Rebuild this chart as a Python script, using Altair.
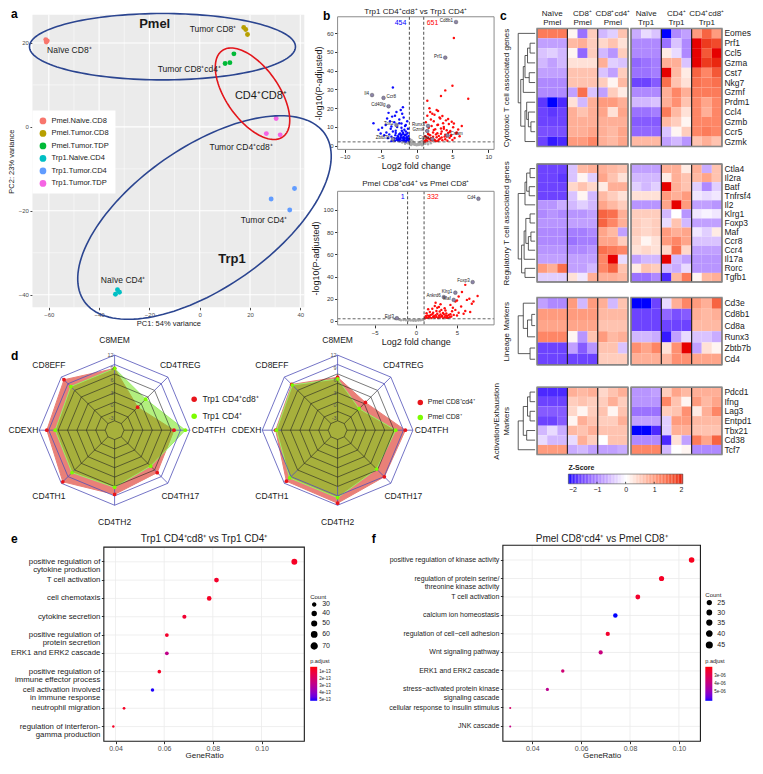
import altair as alt
import pandas as pd
import numpy as np

FONT = "Liberation Sans"
TXT = "#1a1a1a"
KX, KY = 0.978, 0.975   # scale from the original figure's pixel grid to this canvas
W, H = 746, 757         # canvas (plot area) size

# ======================= a : PCA =======================
pca_groups = ["Pmel.Naive.CD8", "Pmel.Tumor.CD8", "Pmel.Tumor.TDP",
              "Trp1.Naive.CD4", "Trp1.Tumor.CD4", "Trp1.Tumor.TDP"]
pca_colors = ["#F8766D", "#B79F00", "#00BA38", "#00BFC4", "#619CFF", "#F564E3"]
pca_group = [g for g in pca_groups for _ in range(3)]
pca_pc1 = [-61.2, -60.6, -61.0, 17.5, 18.3, 19.0, 10.1, 12.0, 13.6,
           -32.7, -31.9, -33.5, 37.7, 28.4, 35.8, 30.4, 26.5, 32.0]
pca_pc2 = [20.8, 20.5, 20.2, 23.7, 23.2, 22.0, 15.1, 15.3, 17.4,
           -38.8, -39.4, -39.9, -14.7, -17.2, -19.8, 2.0, -1.6, -1.9]
pca_major_x = [-60, -40, -20, 0, 20, 40]
pca_major_y = [-40, -20, 0, 20]
pca_minor_x = [-50, -30, -10, 10, 30]
pca_minor_y = [-30, -10, 10]
ell_name = ["Pmel", "CD4CD8", "Trp1"]
ell_cx = [-14.8, 21.0, 1.9]
ell_cy = [19.1, 7.9, -21.6]
ell_a = [136, 54, 150]
ell_b = [34, 27, 72]
ell_ang = [0, -55, 35]
PX1, PX2 = 2.572, 4.30
pca_lab_text = ["Pmel", "Trp1", "Naïve CD8⁺", "Tumor CD8⁺", "Tumor CD8⁺cd4⁺",
                "CD4⁺CD8⁺", "Tumor CD4⁺cd8⁺", "Tumor CD4⁺", "Naïve CD4⁺"]
pca_lab_x = [-17.9, 12.8, -60.7, -4.0, -16.7, 14.0, 3.9, 16.3, -39.3]
pca_lab_y = [24.4, -31.6, 18.4, 23.3, 13.7, 7.4, -4.9, -22.3, -36.5]
pca_lab_kind = ["big", "big", "small", "small", "small", "mid", "small", "small", "small"]

# ======================= b : volcano =======================
lfc_cutoffs = [-1, 1]
p_cutoff = 2
v1_ns = [(-1.4, 1.5), (-1.2, 1.2), (-1.0, 1.9), (-0.9, 2.6), (-0.8, 1.4), (-0.7, 3.0), (-0.6, 0.9),
         (-0.5, 2.2), (-0.4, 0.6), (-0.3, 1.6), (-0.2, 0.4), (-0.1, 0.8), (0.0, 0.2), (0.1, 0.7),
         (0.2, 0.3), (0.3, 1.3), (0.4, 0.5), (0.5, 1.9), (0.6, 0.8), (0.7, 2.4), (0.8, 1.1),
         (0.9, 2.8), (1.0, 1.6), (1.2, 1.0), (1.4, 1.8), (-0.85, 0.5), (-0.65, 1.7), (-0.45, 1.1),
         (-0.25, 0.9), (0.25, 0.6), (0.45, 1.4), (0.65, 1.2), (0.85, 0.4), (-1.6, 1.0), (1.6, 0.7),
         (-2.0, 1.7), (2.0, 1.3), (-0.95, 3.5), (0.95, 3.2), (-0.75, 0.3), (0.75, 0.2)]
v1_down = [(-1.1, 2.5), (-1.3, 3.0), (-1.5, 2.2), (-1.2, 4.0), (-1.8, 3.5), (-2.0, 2.8), (-2.2, 4.5),
           (-1.6, 5.5), (-1.4, 6.0), (-2.5, 3.2), (-2.8, 4.0), (-3.0, 2.6), (-1.9, 7.0), (-2.3, 6.5),
           (-2.6, 5.0), (-1.7, 8.5), (-3.2, 3.5), (-3.5, 4.8), (-1.2, 9.0), (-1.5, 11.0), (-2.1, 9.5),
           (-2.4, 12.0), (-2.9, 8.0), (-3.3, 7.5), (-3.8, 6.0), (-4.0, 4.0), (-1.3, 13.0), (-1.8, 15.0),
           (-2.7, 10.0), (-3.1, 12.5), (-3.6, 9.0), (-4.2, 7.0), (-4.5, 5.5), (-2.0, 17.0), (-2.4, 14.0),
           (-1.6, 10.5), (-3.4, 15.5), (-2.2, 19.0), (-1.9, 20.5), (-4.8, 9.5), (-5.0, 6.5), (-2.8, 18.0),
           (-3.0, 16.0), (-3.7, 13.0), (-1.4, 3.8), (-2.6, 2.7), (-4.3, 11.0), (-3.9, 17.5), (-5.3, 8.5),
           (-2.1, 5.8), (-1.8, 4.6), (-3.2, 2.9), (-2.5, 3.6), (-4.1, 14.5), (-1.1, 5.2), (-3.5, 10.2),
           (-2.9, 6.8), (-6.0, 12.0), (-1.5, 7.6), (-2.3, 3.3), (-1.15, 3.4), (-1.35, 4.6), (-1.55, 5.8),
           (-1.75, 3.0), (-1.95, 4.2), (-2.15, 5.4), (-2.35, 2.4), (-2.55, 4.4), (-2.75, 3.1), (-2.95, 5.6),
           (-3.15, 3.9), (-1.25, 6.8), (-1.45, 2.9), (-1.65, 4.1), (-1.85, 6.2), (-2.05, 7.9), (-2.25, 3.8),
           (-2.45, 6.0), (-1.05, 3.6), (-1.7, 2.3), (-3.5, 2.4), (-2.1, 11.8), (-3.3, 31.0)]
v1_up = [(1.1, 2.3), (1.3, 3.0), (1.5, 2.6), (1.8, 3.5), (2.0, 4.0), (2.2, 2.8), (2.5, 3.2), (2.8, 4.5),
         (3.0, 2.5), (3.3, 3.8), (3.6, 2.9), (4.0, 3.4), (4.3, 2.6), (4.6, 4.2), (5.0, 3.0), (1.2, 5.0),
         (1.6, 6.2), (1.9, 5.5), (2.3, 7.0), (2.7, 6.0), (3.1, 5.2), (3.5, 7.5), (3.9, 4.8), (4.4, 6.8),
         (4.8, 5.6), (5.3, 4.1), (1.4, 8.0), (1.7, 9.5), (2.1, 10.5), (2.6, 8.8), (2.9, 11.0), (3.4, 9.2),
         (3.8, 10.0), (4.2, 8.2), (4.7, 7.8), (5.5, 6.5), (6.0, 5.0), (1.3, 12.5), (2.0, 14.0), (2.4, 13.0),
         (3.2, 15.0), (3.7, 12.0), (4.5, 11.5), (5.1, 9.8), (5.8, 8.6), (1.5, 16.0), (1.9, 18.0), (2.2, 17.0),
         (2.8, 19.0), (3.3, 14.5), (4.1, 13.5), (4.9, 12.8), (6.3, 10.5), (1.8, 20.0), (2.5, 16.5),
         (3.0, 18.5), (3.6, 15.8), (4.4, 14.2), (5.2, 11.8), (2.1, 3.6), (2.7, 2.4), (3.5, 4.4), (4.0, 5.8),
         (4.6, 7.2), (1.6, 3.9), (2.3, 4.7), (2.9, 6.6), (3.8, 9.0), (5.6, 7.0), (1.2, 2.2), (1.4, 4.4),
         (2.6, 2.7), (3.1, 3.3), (4.2, 4.9), (1.7, 6.0), (2.4, 8.4), (3.4, 6.3), (4.8, 5.2), (2.0, 2.9),
         (3.0, 11.2), (5.2, 57.5), (5.0, 32.0), (7.2, 25.0), (3.4, 26.5), (4.0, 29.5), (1.5, 24.0)]
v1_lab_gene = ["Cd8b1", "Prf1", "Il4", "Ccr8", "Cd40lg", "Tox2", "Zbtb7b", "Runx3", "Gzmk", "Cd8a", "Crtam"]
v1_lab_x = [5.5, 4.0, -6.2, -4.6, -3.9, -2.8, -3.3, 1.6, 1.5, 2.2, 4.3]
v1_lab_y = [66.0, 47.0, 27.0, 25.5, 21.0, 11.0, 3.5, 10.5, 7.8, 3.5, 5.5]
v1_lab_side = ["L", "L", "L", "R", "L", "L", "L", "L", "L", "L", "R"]
v2_ns = [(-2.5, 1.8), (-2.0, 1.2), (-1.5, 0.9), (-1.2, 0.6), (-0.9, 0.5), (-0.6, 0.4), (-0.3, 0.3),
         (0.0, 0.2), (0.3, 0.4), (0.6, 0.6), (0.9, 1.0), (-1.8, 0.7), (-0.75, 1.2), (0.45, 0.9),
         (-1.3, 1.5), (0.8, 1.7), (-0.4, 0.8), (0.2, 1.2), (-0.1, 0.6)]
v2_down = []
v2_up = [(1.1, 2.5), (1.3, 3.0), (1.5, 2.8), (1.7, 3.4), (1.9, 2.6), (2.1, 3.6), (2.3, 2.9), (2.5, 3.8),
         (2.7, 2.7), (2.9, 3.2), (3.1, 4.0), (3.3, 2.6), (3.5, 3.5), (3.7, 3.0), (3.9, 2.8), (4.1, 3.3),
         (1.2, 4.2), (1.4, 5.0), (1.6, 4.6), (1.8, 5.5), (2.0, 6.0), (2.2, 4.4), (2.4, 5.2), (2.6, 6.5),
         (2.8, 4.8), (3.0, 5.8), (3.2, 4.5), (3.4, 6.2), (3.6, 5.0), (3.8, 4.6), (4.0, 5.4), (4.3, 4.0),
         (1.3, 7.0), (1.7, 8.0), (2.1, 7.5), (2.5, 9.0), (2.9, 8.5), (3.3, 7.2), (3.7, 6.8), (4.2, 6.0),
         (4.6, 5.5), (5.0, 5.0), (1.5, 10.5), (2.0, 11.0), (2.6, 12.0), (3.1, 10.0), (3.6, 9.5), (4.4, 8.8),
         (5.2, 7.5), (5.8, 6.5), (2.3, 13.5), (2.8, 12.5), (3.5, 11.5), (4.8, 10.0), (6.0, 9.0), (6.6, 8.0),
         (5.5, 13.0), (4.2, 14.5), (3.0, 15.0), (2.4, 16.5), (6.8, 15.5), (7.0, 17.5), (5.0, 18.5),
         (6.2, 19.0), (4.5, 12.0), (6.0, 32.5), (5.6, 26.0), (5.2, 22.0), (6.5, 20.0), (7.5, 22.5), (4.8, 17.5)]
v2_lab_gene = ["Cd4", "Foxp3", "Klrg1", "Maf", "Ankrd6", "Eid3"]
v2_lab_x = [7.6, 6.9, 4.8, 4.6, 3.4, -2.3]
v2_lab_y = [110.0, 35.0, 25.5, 19.0, 21.5, 2.5]
v2_lab_side = ["L", "L", "L", "L", "L", "L"]

# ======================= c : heatmaps =======================
grp_top = ["Naïve", "CD8⁺", "CD8⁺cd4⁺", "Naïve", "CD4⁺", "CD4⁺cd8⁺"]
grp_bottom = ["Pmel", "Pmel", "Pmel", "Trp1", "Trp1", "Trp1"]
cyto_genes = ["Eomes", "Prf1", "Ccl5", "Gzma", "Cst7", "Nkg7", "Gzmf", "Prdm1", "Ccl4", "Gzmb", "Ccr5", "Gzmk"]
cyto_z = [
    [1.3, 1.3, 1.3, 0.1, -1.2, 0.5, -0.6, -0.4, 0.6, -0.7, -0.3, -0.5, -2.0, -1.0, -0.8, 1.0, 1.5, 1.0],
    [-0.8, -0.8, -0.8, 0.7, 0.8, 0.5, 0.4, 0.6, 0.3, -1.0, -1.0, -1.0, -1.2, -0.5, -1.0, 2.0, 1.8, 1.7],
    [-0.5, -0.4, -0.6, 0.1, -1.3, 0.5, -0.6, -0.9, 0.5, -1.0, -1.0, -1.0, 0.2, -0.3, -1.0, 2.0, 1.6, 2.0],
    [-0.6, -0.8, -0.6, 0.3, 0.3, 0.3, 0.8, -0.4, -0.5, -1.3, -1.2, -1.1, 0.8, 0.8, -0.5, 2.0, 1.8, 1.9],
    [-0.8, -0.8, -0.8, 0.6, 0.6, 0.6, -0.5, -0.8, 0.5, -1.2, -1.2, -1.1, 2.0, 0.7, 0.2, 1.5, 1.2, 1.6],
    [-1.0, -1.0, -1.0, 0.6, 0.6, 0.6, 0.5, 0.1, 0.7, -1.6, -1.6, -1.4, 1.4, 0.6, 0.3, 1.4, 1.3, 1.4],
    [-1.0, -1.0, -1.0, -0.8, 1.4, -0.5, -0.8, 0.5, 0.2, -1.0, -1.0, -1.0, 0.8, 1.2, 0.8, 1.3, 1.3, 1.3],
    [-1.7, -2.0, -1.8, 0.3, -0.6, 0.8, 1.0, 1.0, 0.8, -0.6, -0.6, -0.5, 0.8, 1.1, 0.6, 1.2, 0.9, 1.2],
    [-1.6, -1.7, -1.6, 0.8, 0.6, 0.8, 0.9, 0.3, 0.9, -1.2, -1.2, -1.1, 1.3, 0.7, 0.3, 1.2, 0.8, 1.2],
    [-1.6, -1.6, -1.6, 0.8, 0.8, 0.8, 0.8, 0.8, 0.8, -1.4, -1.4, -1.4, 0.7, 0.5, 0.1, 1.2, 1.2, 1.2],
    [-1.5, -1.5, -1.5, 0.8, 0.8, 0.9, 0.8, 0.7, 0.9, -1.3, -1.3, -1.3, -0.5, 0.1, 0.5, 1.2, 1.3, 1.2],
    [-1.6, -1.9, -1.8, 1.0, 1.0, 1.2, 0.8, 0.7, 0.9, 0.7, 0.7, 0.7, -0.8, -0.6, -0.9, 0.6, 0.8, 0.6],
]
cyto_merges = [(1, 2, 0.3), (12, 3, 0.45), (4, 5, 0.35), (13, 14, 0.6), (15, 6, 0.7), (9, 10, 0.25),
               (8, 17, 0.4), (7, 18, 0.5), (19, 11, 0.6), (16, 20, 0.85), (0, 21, 1.0)]
reg_genes = ["Ctla4", "Il2ra", "Batf", "Tnfrsf4", "Il2", "Klrg1", "Foxp3", "Maf", "Ccr8", "Ccr4", "Il17a", "Rorc", "Tgfb1"]
reg_z = [
    [-1.6, -1.6, -1.6, -0.5, 0.7, 0.8, 0.8, 0.7, 0.6, -0.8, -0.8, -0.8, 0.8, 0.8, 0.2, 0.8, -0.7, 0.6],
    [-1.6, -1.6, -1.7, -0.5, 0.1, -0.4, 0.9, 0.6, 0.3, -0.6, -0.6, -0.6, 0.2, 0.8, 0.6, 0.7, 0.9, 0.6],
    [-1.6, -1.6, -1.6, 0.4, 0.6, 0.4, 0.2, 0.8, 0.8, -0.4, -0.6, -0.4, 2.0, 0.8, 0.6, -0.4, -1.0, -0.4],
    [-1.6, -1.6, -1.6, -0.5, 0.1, -0.6, 0.7, 0.5, 0.3, 0.3, 0.3, 0.3, 1.0, 0.8, 1.0, -0.2, -0.3, -0.2],
    [-0.9, -0.9, -0.7, -0.6, -0.4, -0.6, 0.9, 0.7, 0.5, -0.9, -0.9, -0.9, 0.9, 2.0, 1.0, -0.8, -0.8, -0.9],
    [-1.0, -0.9, -1.0, -0.9, -0.9, -0.8, 1.5, 1.4, 0.8, 0.5, 0.5, 0.5, -0.6, 0.0, -0.9, -0.2, -0.1, -0.2],
    [-0.9, -0.9, -0.9, -0.8, -0.8, -0.8, 1.5, 1.2, 0.8, 0.5, 0.4, 0.5, -0.3, 0.6, -0.6, -0.8, -0.8, -0.8],
    [-1.0, -1.0, -1.0, -1.1, -1.1, -1.0, 0.9, 0.7, -0.8, 0.5, 0.4, 0.5, 1.0, 0.8, 0.9, -0.2, -0.4, 0.2],
    [-1.0, -1.0, -1.0, -1.2, -1.1, -1.1, 0.9, 0.9, 0.5, 0.4, 0.1, 0.3, 1.0, 1.2, 0.9, -0.5, -0.5, -0.5],
    [-0.9, -0.9, -0.9, -1.0, -1.0, -0.9, 1.4, 1.3, 1.2, 0.3, 0.4, 0.3, 0.4, 1.4, 0.4, -0.8, -0.8, -0.8],
    [-0.8, -0.8, -0.8, -0.8, -0.8, -0.8, 1.2, 2.0, -0.3, -0.8, -0.6, -0.6, 2.0, -0.6, -0.8, -0.9, -0.9, -0.9],
    [1.0, 0.8, 1.4, -0.8, -0.8, -0.6, 1.2, 1.5, 0.6, 0.2, 0.6, 0.5, -0.6, -0.7, -0.3, -0.9, -0.9, -0.9],
    [-0.4, -0.4, -0.4, 0.3, -0.2, 0.8, 0.8, 0.8, 0.7, -1.2, -1.2, -1.0, -1.8, 0.7, 1.3, 0.1, 0.7, 0.8],
]
reg_merges = [(0, 1, 0.3), (2, 3, 0.35), (13, 14, 0.5), (15, 4, 0.6), (5, 6, 0.3), (7, 8, 0.25),
              (18, 9, 0.4), (17, 19, 0.55), (20, 10, 0.65), (11, 12, 0.6), (21, 22, 0.8), (16, 23, 1.0)]
lin_genes = ["Cd3e", "Cd8b1", "Cd8a", "Runx3", "Zbtb7b", "Cd4"]
lin_z = [
    [-0.8, -1.0, -1.0, 1.0, -0.6, 1.0, 0.8, -0.6, 0.6, -2.0, -2.2, -1.6, -0.3, 0.8, 1.2, 1.0, 0.8, 1.5],
    [1.0, 1.0, 1.0, 1.0, 1.0, 1.0, 0.7, 0.7, 0.7, -1.6, -1.6, -1.6, -1.3, -1.5, -1.4, 0.8, 0.7, 0.8],
    [0.9, 0.9, 0.9, 0.9, 0.9, 0.9, 0.6, 0.6, 0.6, -1.6, -1.6, -1.6, -1.6, -1.6, -1.6, 0.7, 0.7, 0.7],
    [1.2, 1.2, 1.2, 0.1, -0.9, 0.6, 1.0, 0.7, 0.8, -0.6, -0.6, -0.7, -1.9, -0.8, -0.3, -0.5, -0.5, -0.7],
    [-1.6, -1.6, -1.6, -0.8, -1.4, -0.9, 0.6, 0.6, -0.5, 1.1, 0.9, 1.2, 0.3, 1.1, 2.0, -0.8, 0.3, 0.1],
    [-1.6, -1.6, -1.6, -1.6, -1.6, -1.6, 0.5, 0.5, 0.5, 0.8, 0.8, 0.8, 0.7, 1.1, 1.1, 0.9, 0.9, 0.9],
]
lin_merges = [(1, 2, 0.2), (6, 3, 0.45), (0, 7, 0.7), (4, 5, 0.3), (8, 9, 1.0)]
act_genes = ["Pdcd1", "Ifng", "Lag3", "Entpd1", "Tbx21", "Cd38", "Tcf7"]
act_z = [
    [-1.8, -1.8, -1.8, 0.8, 0.7, 0.8, 0.4, 0.6, 0.8, -0.9, -0.9, -0.8, 0.5, 0.9, 0.7, 0.8, 0.8, 0.8],
    [-1.6, -1.6, -1.6, 0.5, 0.6, 0.5, 0.5, 0.8, 0.5, -0.9, -0.9, -0.9, 1.2, 0.6, 0.1, 1.0, 0.7, 0.9],
    [-1.4, -1.4, -1.4, 0.4, 0.1, 0.5, 0.6, 0.1, 0.6, -1.2, -1.2, -1.2, 0.5, 0.6, 1.1, 0.2, 0.8, 1.2],
    [-1.6, -1.6, -1.4, 0.1, 0.8, 0.6, 0.5, 0.5, 0.8, -0.8, -0.8, -0.8, -0.4, 1.0, 1.0, 0.7, 0.7, 0.7],
    [-0.6, -0.3, -0.7, 0.7, 0.6, 0.8, 0.6, 0.6, 0.6, -2.0, -2.0, -1.8, -0.4, 0.8, 0.8, 0.6, 0.6, 0.6],
    [-0.3, -0.6, -0.6, -0.3, 0.8, 0.5, 0.0, 0.6, 0.6, -1.0, -1.0, -1.0, -1.8, 0.3, -0.8, 1.3, 0.9, 1.5],
    [1.0, 1.0, 1.0, -0.7, -0.6, -0.8, -0.8, -0.8, -0.7, 1.2, 1.2, 1.2, -0.6, 0.0, 0.1, -1.0, -1.0, -1.0],
]
act_merges = [(0, 1, 0.3), (2, 3, 0.3), (7, 8, 0.45), (4, 5, 0.5), (9, 10, 0.7), (11, 6, 1.0)]
zscale_kw = dict(domain=[-2, 0, 2], range=["#0000FF", "#FFFFFF", "#E60000"], interpolate="lab", clamp=True)

# ======================= d : radar =======================
radar_cats = ["C8MEM", "CD4TREG", "CD4TFH", "CD4TH17", "CD4TH2", "CD4TH1", "CDEXH", "CD8EFF"]
radar_label_r = [93, 95, 79, 95, 94, 95, 78, 95]
radar_ticks = [-3, 0, 3, 6, 9, 12]
d1_red = [8.8, 1.8, 8.2, 8.4, 9.4, 11.5, 10.2, 11.1]
d1_green = [8.8, 4.5, 10.9, 6.2, 7.7, 8.4, 8.2, 8.8]
d2_red = [6.7, 3.4, 10.2, 9.8, 11.5, 11.3, 8.8, 9.5]
d2_green = [6.3, 1.3, 7.9, 7.2, 10.2, 10.2, 8.6, 9.3]
R_OUT, V_MIN, V_MAX = 77.0, -6.0, 12.0

# ======================= e / f : GO dot plots =======================
e_terms = ["positive regulation of|cytokine production", "T cell activation", "cell chemotaxis",
           "cytokine secretion", "positive regulation of|protein secretion", "ERK1 and ERK2 cascade",
           "positive regulation of|immune effector process", "cell activation involved|in immune response",
           "neutrophil migration", "regulation of interferon-|gamma production"]
e_ratio = [0.1135, 0.0815, 0.0785, 0.0683, 0.0611, 0.0611, 0.0580, 0.0552, 0.0435, 0.0391]
e_count = [72, 52, 50, 43, 39, 39, 37, 35, 28, 25]
e_padj = [7e-14, 8e-14, 7e-14, 9e-14, 8e-14, 2.7e-13, 7e-14, 5.0e-13, 7e-14, 7e-14]
f_terms = ["positive regulation of kinase activity", "regulation of protein serine/|threonine kinase activity",
           "T cell activation", "calcium ion homeostasis", "regulation of cell−cell adhesion",
           "Wnt signaling pathway", "ERK1 and ERK2 cascade", "stress−activated protein kinase|signaling cascade",
           "cellular response to insulin stimulus", "JNK cascade"]
f_ratio = [0.1052, 0.0929, 0.0832, 0.0740, 0.0709, 0.0680, 0.0525, 0.0462, 0.0310, 0.0310]
f_count = [45, 40, 36, 32, 30, 29, 22, 20, 13, 13]
f_padj = [2.2e-6, 2.3e-6, 2.4e-6, 6.0e-6, 2.4e-6, 3.8e-6, 3.6e-6, 4.1e-6, 3.4e-6, 3.9e-6]
go_ticks = [0.04, 0.06, 0.08, 0.10]


# ---------------------------------------------------------------------------
def PX(v):
    return round(v * KX, 2)


def PY(v):
    return round(v * KY, 2)


def off_bottom(y):
    return PY(y) - H


def off_left(x):
    return -PX(x)


def off_right(x):
    return PX(x) - W


ONE = pd.DataFrame({"v": [0]})


def note(text, x, y, **kw):
    return alt.Chart(pd.DataFrame({"t": [text]})).mark_text(**kw).encode(
        text="t:N", x=alt.value(PX(x)), y=alt.value(PY(y)))


def box(x0, y0, x1, y1, **kw):
    return alt.Chart(ONE).mark_rect(**kw).encode(
        x=alt.value(PX(x0)), x2=alt.value(PX(x1)), y=alt.value(PY(y0)), y2=alt.value(PY(y1)))


def letter(ch, x, y):
    return note(ch, x, y, fontSize=12, fontWeight="bold", align="left", baseline="middle", color="black")


# ---------------- panel a ----------------
def panel_a():
    x0, y0, x1, y1 = 25, 7, 303, 307
    ax = dict(labelFontSize=6, labelColor="#4D4D4D", tickColor="#4D4D4D", tickSize=2.5, domain=False,
              titleFontSize=7.5, titleFontWeight="normal", titleColor=TXT, grid=False, labelPadding=1.5)
    xa = alt.X("PC1:Q", scale=alt.Scale(domain=[-66.5, 41.6], range=[PX(x0), PX(x1)], nice=False, zero=False),
               axis=alt.Axis(values=pca_major_x, title="PC1: 54% variance", orient="bottom",
                             offset=off_bottom(y1), titlePadding=2, **ax))
    ya = alt.Y("PC2:Q", scale=alt.Scale(domain=[-43, 26.7], range=[PY(y1), PY(y0)], nice=False, zero=False),
               axis=alt.Axis(values=pca_major_y, title="PC2: 23% variance", orient="left",
                             offset=off_left(x0), titlePadding=3, **ax))
    bg = box(x0, y0, x1, y1, color="#EBEBEB")
    gy = dict(y=alt.value(PY(y0)), y2=alt.value(PY(y1)))
    gx = dict(x=alt.value(PX(x0)), x2=alt.value(PX(x1)))
    mjx = alt.Chart(pd.DataFrame({"PC1": pca_major_x})).mark_rule(color="white", strokeWidth=1.1).encode(x=xa, **gy)
    mnx = alt.Chart(pd.DataFrame({"PC1": pca_minor_x})).mark_rule(color="white", strokeWidth=0.5).encode(x=xa, **gy)
    mjy = alt.Chart(pd.DataFrame({"PC2": pca_major_y})).mark_rule(color="white", strokeWidth=1.1).encode(y=ya, **gx)
    mny = alt.Chart(pd.DataFrame({"PC2": pca_minor_y})).mark_rule(color="white", strokeWidth=0.5).encode(y=ya, **gx)
    pts = alt.Chart(pd.DataFrame({"PC1": pca_pc1, "PC2": pca_pc2, "group": pca_group})).mark_circle(
        size=24, opacity=1).encode(
        x=xa, y=ya,
        color=alt.Color("group:N", scale=alt.Scale(domain=pca_groups, range=pca_colors),
                        legend=alt.Legend(orient="none", legendX=PX(25), legendY=PY(105), title=None,
                                          fillColor="white", padding=6, labelFontSize=7.5, labelColor=TXT,
                                          symbolSize=45, symbolType="circle", rowPadding=4.5, labelFont=FONT)))
    t = np.linspace(0, 2 * np.pi, 145)
    rows = []
    for nm, cx, cy, a, b, ang in zip(ell_name, ell_cx, ell_cy, ell_a, ell_b, ell_ang):
        th = np.radians(ang)
        for k, tt in enumerate(t):
            dxp = a * np.cos(tt) * np.cos(th) - b * np.sin(tt) * np.sin(th)
            dyp = a * np.cos(tt) * np.sin(th) + b * np.sin(tt) * np.cos(th)
            rows.append({"name": nm, "k": k, "PC1": cx + dxp / PX1, "PC2": cy + dyp / PX2})
    edf = pd.DataFrame(rows)
    e_blue = alt.Chart(edf[edf.name != "CD4CD8"]).mark_line(color="#2B4590", strokeWidth=1.6).encode(
        x=xa, y=ya, detail="name:N", order="k:Q")
    e_red = alt.Chart(edf[edf.name == "CD4CD8"]).mark_line(color="#E3151B", strokeWidth=1.6).encode(
        x=xa, y=ya, order="k:Q")
    ldf = pd.DataFrame({"PC1": pca_lab_x, "PC2": pca_lab_y, "t": pca_lab_text, "kind": pca_lab_kind})
    tb = alt.Chart(ldf[ldf.kind == "big"]).mark_text(fontSize=13, fontWeight="bold", color=TXT).encode(
        x=xa, y=ya, text="t:N")
    tm = alt.Chart(ldf[ldf.kind == "mid"]).mark_text(fontSize=11, align="left", color=TXT).encode(
        x=xa, y=ya, text="t:N")
    ts = alt.Chart(ldf[ldf.kind == "small"]).mark_text(fontSize=8.5, align="left", color=TXT).encode(
        x=xa, y=ya, text="t:N")
    return alt.layer(bg, mnx, mny, mjx, mjy, pts, e_blue, e_red, tb, tm, ts)


# ---------------- panel b ----------------
def volcano(ns, down, up, lab_gene, lab_x, lab_y, lab_side, xdom, ydom, xvals, yvals, title, n_down, n_up,
            bx, ty):
    x0, y0, x1, y1 = bx
    ax = dict(labelFontSize=6, labelColor="#333", tickColor="#333", tickSize=3, domain=False, grid=False,
              titleFontSize=9, titleFontWeight="normal", titleColor=TXT, labelPadding=1.5)
    X = alt.X("lfc:Q", scale=alt.Scale(domain=xdom, range=[PX(x0), PX(x1)], nice=False, zero=False),
              axis=alt.Axis(values=xvals, title="Log2 fold change", orient="bottom", offset=off_bottom(y1),
                            titlePadding=2, **ax))
    Y = alt.Y("nlp:Q", scale=alt.Scale(domain=ydom, range=[PY(y1), PY(y0)], nice=False, zero=False),
              axis=alt.Axis(values=yvals, title="-log10(P-adjusted)", orient="left", offset=off_left(x0),
                            titlePadding=3, **ax))
    rows = [{"lfc": x, "nlp": y, "cls": "ns"} for x, y in ns]
    rows += [{"lfc": x, "nlp": y, "cls": "down"} for x, y in down]
    rows += [{"lfc": x, "nlp": y, "cls": "up"} for x, y in up]
    pts = alt.Chart(pd.DataFrame(rows)).mark_circle(size=6, opacity=0.95).encode(
        X, Y, color=alt.Color("cls:N", scale=alt.Scale(domain=["ns", "down", "up"],
                                                        range=["#A6A6A6", "#0000FF", "#FF0000"]), legend=None))
    vr = alt.Chart(pd.DataFrame({"lfc": lfc_cutoffs})).mark_rule(
        color="#222", strokeDash=[3, 2], strokeWidth=0.8).encode(x=X, y=alt.value(PY(y0)), y2=alt.value(PY(y1)))
    hr = alt.Chart(pd.DataFrame({"nlp": [p_cutoff]})).mark_rule(
        color="#555", strokeDash=[3, 2], strokeWidth=0.9).encode(y=Y, x=alt.value(PX(x0)), x2=alt.value(PX(x1)))
    ldf = pd.DataFrame({"gene": lab_gene, "lfc": lab_x, "nlp": lab_y, "side": lab_side})
    lp = alt.Chart(ldf).mark_circle(size=14, color="#8C84A8", stroke="#444", strokeWidth=0.4, opacity=1).encode(X, Y)
    ltl = alt.Chart(ldf[ldf.side == "L"]).mark_text(fontSize=4.5, align="right", dx=-3, dy=-1, color="#222").encode(
        X, Y, text="gene:N")
    ltr = alt.Chart(ldf[ldf.side == "R"]).mark_text(fontSize=4.5, align="left", dx=3, dy=-1, color="#222").encode(
        X, Y, text="gene:N")
    cd = alt.Chart(pd.DataFrame({"lfc": [lfc_cutoffs[0]], "t": [str(n_down)]})).mark_text(
        fontSize=7, align="right", dx=-3, baseline="top", color="#0000FF").encode(
        x=X, y=alt.value(PY(y0) + 2), text="t:N")
    cu = alt.Chart(pd.DataFrame({"lfc": [lfc_cutoffs[1]], "t": [str(n_up)]})).mark_text(
        fontSize=7, align="left", dx=3, baseline="top", color="#FF0000").encode(
        x=X, y=alt.value(PY(y0) + 2), text="t:N")
    frame = box(x0, y0, x1, y1, fill="transparent", stroke="#8C8C8C", strokeWidth=1)
    ttl = note(title, (x0 + x1) / 2, ty, fontSize=8, color=TXT)
    lay = [pts, vr, hr, lp, ltl, cd, cu]
    if (ldf.side == "R").any():
        lay.append(ltr)
    return [alt.layer(*lay), frame, ttl]


# ---------------- panel c ----------------
HX0, HX1 = 541, 730
DX0, DX1 = 521, 539


def dendro_df(n, merges):
    pos = {i: float(i) for i in range(n)}
    hgt = {i: 0.0 for i in range(n)}
    rows = []
    for k, (a, b, hh) in enumerate(merges):
        node = n + k
        rows.append(dict(h0=hh, h1=hh, y0=pos[a], y1=pos[b]))
        rows.append(dict(h0=hgt[a], h1=hh, y0=pos[a], y1=pos[a]))
        rows.append(dict(h0=hgt[b], h1=hh, y0=pos[b], y1=pos[b]))
        pos[node] = (pos[a] + pos[b]) / 2
        hgt[node] = hh
    return pd.DataFrame(rows)


def heat_block(genes, z, merges, title, y0, y1, header=False):
    n = len(genes)
    HX = alt.Scale(domain=[0, 18.3], range=[PX(HX0), PX(HX1)], nice=False, zero=False)
    dd = dendro_df(n, merges)
    dendro = alt.Chart(dd).mark_rule(color="#333", strokeWidth=0.8).encode(
        x=alt.X("h0:Q", scale=alt.Scale(domain=[1.04, 0], range=[PX(DX0), PX(DX1)], nice=False, zero=False),
                axis=None),
        x2="h1:Q",
        y=alt.Y("y0:Q", scale=alt.Scale(domain=[n - 0.5, -0.5], range=[PY(y1), PY(y0)], nice=False, zero=False),
                axis=alt.Axis(title=title, labels=False, ticks=False, domain=False, grid=False, titleFontSize=8,
                              titleFontWeight="normal", titleColor=TXT, titlePadding=7, orient="left",
                              offset=off_left(DX0), titleLineHeight=10)),
        y2="y1:Q")
    rows = [{"gene": g, "col": c, "z": z[i][c]} for i, g in enumerate(genes) for c in range(18)]
    heat = alt.Chart(pd.DataFrame(rows)).transform_calculate(
        x0="datum.col + (datum.col >= 9 ? 0.3 : 0)", x1="datum.col + 1 + (datum.col >= 9 ? 0.3 : 0)"
    ).mark_rect(strokeWidth=0).encode(
        x=alt.X("x0:Q", scale=HX, axis=None), x2="x1:Q",
        y=alt.Y("gene:N", sort=genes, scale=alt.Scale(range=[PY(y0), PY(y1)], paddingInner=0, paddingOuter=0),
                axis=alt.Axis(orient="right", offset=off_right(HX1), title=None, ticks=False, domain=False,
                              labelFontSize=8.5, labelPadding=2, labelLimit=60, labelColor=TXT, labelFont=FONT)),
        color=alt.Color("z:Q", scale=alt.Scale(**zscale_kw), legend=None))
    yfull = dict(y=alt.value(PY(y0)), y2=alt.value(PY(y1)))
    gframes = alt.Chart(pd.DataFrame({"g": list(range(6))})).transform_calculate(
        gx0="datum.g*3 + (datum.g >= 3 ? 0.3 : 0)", gx1="datum.g*3 + 3 + (datum.g >= 3 ? 0.3 : 0)"
    ).mark_rect(fill="transparent", stroke="#1a1a1a", strokeWidth=0.8).encode(
        x=alt.X("gx0:Q", scale=HX, axis=None), x2="gx1:Q", **yfull)
    hframes = alt.Chart(pd.DataFrame({"s": [0, 1]})).transform_calculate(
        hx0="datum.s*9.3", hx1="datum.s*9.3 + 9"
    ).mark_rect(fill="transparent", stroke="#8a8a8a", strokeWidth=1.4).encode(
        x=alt.X("hx0:Q", scale=HX, axis=None), x2="hx1:Q", **yfull)
    lay = [heat, gframes, hframes]
    if header:
        hdf = pd.DataFrame({"g": list(range(6)), "top": grp_top, "bot": grp_bottom})
        hb = alt.Chart(hdf).transform_calculate(xc="datum.g*3 + 1.5 + (datum.g >= 3 ? 0.3 : 0)")
        lay.append(hb.mark_text(fontSize=8, baseline="middle", color=TXT).encode(
            x=alt.X("xc:Q", scale=HX, axis=None), text="top:N", y=alt.value(PY(6))))
        lay.append(hb.mark_text(fontSize=8, baseline="middle", color=TXT).encode(
            x=alt.X("xc:Q", scale=HX, axis=None), text="bot:N", y=alt.value(PY(15.5))))
    return [dendro, alt.layer(*lay)]


def colorbar():
    cx0, cx1, cy0, cy1 = 573, 690, 478, 488
    cs = alt.Scale(domain=[-2, 2], range=[PX(cx0), PX(cx1)], nice=False, zero=False)
    yv = dict(y=alt.value(PY(cy0)), y2=alt.value(PY(cy1)))
    bar = alt.Chart(alt.sequence(-2, 2.0, 0.05, as_="z")).transform_calculate(z2="datum.z + 0.05").mark_rect(
        strokeWidth=0).encode(
        x=alt.X("z:Q", scale=cs, axis=alt.Axis(values=[-2, -1, 0, 1, 2], ticks=False, domain=False,
                                                 labelFontSize=7, labelPadding=2, title=None, grid=False,
                                                 labelColor=TXT, format="d", orient="bottom",
                                                 offset=off_bottom(cy1))),
        x2="z2:Q", color=alt.Color("z:Q", scale=alt.Scale(**zscale_kw), legend=None), **yv)
    tk = alt.Chart(pd.DataFrame({"z": [-1, 0, 1]})).mark_rule(color="#222", strokeWidth=0.8).encode(
        x=alt.X("z:Q", scale=cs), y=alt.value(PY(cy1) - 2), y2=alt.value(PY(cy1)))
    return [alt.layer(bar, tk), box(cx0, cy0, cx1, cy1, fill="transparent", stroke="#555", strokeWidth=0.6),
            note("Z-Score", cx0, 472, fontSize=7, fontWeight="bold", align="left", color=TXT)]


# ---------------- panel d ----------------
def radar(red_vals, green_vals, red_name, green_name, cx, cy, lx, ly, lfont, rowpad):
    X = alt.X("x:Q", scale=alt.Scale(domain=[-100, 100], range=[PX(cx - 100), PX(cx + 100)], nice=False,
                                     zero=False), axis=None)
    Y = alt.Y("y:Q", scale=alt.Scale(domain=[-100, 100], range=[PY(cy + 100), PY(cy - 100)], nice=False,
                                     zero=False), axis=None)
    polar = dict(x="datum.r*sin(datum.i*PI/4)", y="datum.r*cos(datum.i*PI/4)")
    rexpr = f"(datum.v - ({V_MIN})) / ({V_MAX - V_MIN}) * {R_OUT}"
    sdf = pd.DataFrame({"series": [red_name] * 8 + [green_name] * 8, "i": list(range(8)) * 2,
                        "v": red_vals + green_vals})
    base = alt.Chart(sdf).transform_calculate(r=rexpr).transform_calculate(**polar)
    red_fill = base.transform_filter(alt.datum.series == red_name).mark_line(
        interpolate="linear-closed", fill="#E98078", stroke="#E98078", strokeWidth=1).encode(X, Y, order="i:Q")
    green_fill = base.transform_filter(alt.datum.series == green_name).mark_line(
        interpolate="linear-closed", fill="#66E000", fillOpacity=0.5, stroke="#9BEF6A", strokeWidth=1).encode(
        X, Y, order="i:Q")
    rdf = pd.DataFrame({"k": [k for k in range(1, 9) for _ in range(8)], "i": list(range(8)) * 8})
    rb = alt.Chart(rdf).transform_calculate(r=f"datum.k/8*{R_OUT}").transform_calculate(**polar)
    rings_k = rb.transform_filter("datum.k <= 6").mark_line(
        interpolate="linear-closed", color="#222", strokeWidth=0.6).encode(X, Y, detail="k:N", order="i:Q")
    rings_b = rb.transform_filter("datum.k > 6").mark_line(
        interpolate="linear-closed", color="#5050B8", strokeWidth=0.8).encode(X, Y, detail="k:N", order="i:Q")
    spdf = pd.DataFrame({"i": list(range(8))})
    sp_k = alt.Chart(spdf).transform_calculate(
        x=f"{R_OUT}/8*sin(datum.i*PI/4)", y=f"{R_OUT}/8*cos(datum.i*PI/4)",
        x2=f"{R_OUT}*6/8*sin(datum.i*PI/4)", y2=f"{R_OUT}*6/8*cos(datum.i*PI/4)"
    ).mark_rule(color="#222", strokeWidth=0.6).encode(X, Y, x2="x2:Q", y2="y2:Q")
    sp_b = alt.Chart(spdf).transform_calculate(
        x=f"{R_OUT}*6/8*sin(datum.i*PI/4)", y=f"{R_OUT}*6/8*cos(datum.i*PI/4)",
        x2=f"{R_OUT}*sin(datum.i*PI/4)", y2=f"{R_OUT}*cos(datum.i*PI/4)"
    ).mark_rule(color="#5050B8", strokeWidth=0.8).encode(X, Y, x2="x2:Q", y2="y2:Q")
    pts = base.mark_circle(size=14, opacity=1).encode(
        X, Y, color=alt.Color("series:N", scale=alt.Scale(domain=[red_name, green_name],
                                                           range=["#E8141B", "#7CFC00"]),
                              legend=alt.Legend(orient="none", legendX=PX(lx), legendY=PY(ly), title=None,
                                                labelFontSize=lfont, symbolType="circle", symbolSize=30,
                                                labelFont=FONT, labelColor=TXT, rowPadding=rowpad, padding=0)))
    tdf = pd.DataFrame({"v": radar_ticks, "t": [str(v) for v in radar_ticks]})
    ticks = alt.Chart(tdf).transform_calculate(r=rexpr).transform_calculate(x="0", y="datum.r").mark_text(
        fontSize=5.5, align="right", dx=-1, color="#555").encode(X, Y, text="t:N")
    cdf = pd.DataFrame({"cat": radar_cats, "i": list(range(8)), "lr": radar_label_r})
    cb = alt.Chart(cdf).transform_calculate(x="datum.lr*sin(datum.i*PI/4)", y="datum.lr*cos(datum.i*PI/4)")
    cc = cb.transform_filter("datum.i != 2 && datum.i != 6").mark_text(fontSize=8.5, color=TXT).encode(
        X, Y, text="cat:N")
    cl = cb.transform_filter("datum.i == 2").mark_text(fontSize=8.5, color=TXT, align="left").encode(
        X, Y, text="cat:N")
    cr = cb.transform_filter("datum.i == 6").mark_text(fontSize=8.5, color=TXT, align="right").encode(
        X, Y, text="cat:N")
    return alt.layer(red_fill, green_fill, rings_k, rings_b, sp_k, sp_b, pts, ticks, cc, cl, cr)


# ---------------- panels e / f ----------------
def dotplot(terms, ratio, count, padj, xdom, title, sdom, srng, svals, cdom, cvals, clabel, bx, lsize, lh,
            legx, legy1, legy2):
    x0, y0, x1, y1 = bx
    df = pd.DataFrame({"term": terms, "ratio": ratio, "count": count, "padj": padj})
    X = alt.X("ratio:Q", scale=alt.Scale(domain=xdom, range=[PX(x0), PX(x1)], nice=False, zero=False),
              axis=alt.Axis(values=go_ticks, format=".2f", title="GeneRatio", grid=False, labelFontSize=7,
                            labelColor="#4D4D4D", tickColor="#333", tickSize=2.5, domain=False, titleFontSize=8,
                            titleFontWeight="normal", titleColor=TXT, titlePadding=0, labelPadding=1,
                            orient="bottom", offset=off_bottom(y1)))
    Y = alt.Y("term:N", sort=terms, scale=alt.Scale(range=[PY(y0), PY(y1)], padding=0.6),
              axis=alt.Axis(title=None, labelExpr="split(datum.label, '|')", labelFontSize=lsize,
                            labelLineHeight=lh, labelColor=TXT, grid=False, tickColor="#333", tickSize=2.5,
                            domain=False, labelLimit=220, labelPadding=1.5, orient="left", offset=off_left(x0)))
    gx = alt.Chart(pd.DataFrame({"ratio": go_ticks})).mark_rule(color="#EBEBEB", strokeWidth=0.8).encode(
        x=X, y=alt.value(PY(y0)), y2=alt.value(PY(y1)))
    gy = alt.Chart(pd.DataFrame({"term": terms})).mark_rule(color="#EBEBEB", strokeWidth=0.8).encode(
        y=Y, x=alt.value(PX(x0)), x2=alt.value(PX(x1)))
    dots = alt.Chart(df).transform_calculate(neg="-datum.padj").mark_circle(opacity=1).encode(
        x=X, y=Y,
        size=alt.Size("count:Q", scale=alt.Scale(domain=sdom, range=srng, zero=False),
                      legend=alt.Legend(title="Count", values=svals, symbolFillColor="black",
                                        symbolStrokeColor="black", titleFontSize=6, labelFontSize=7,
                                        symbolType="circle", rowPadding=-1, titlePadding=1, orient="none",
                                        legendX=PX(legx), legendY=PY(legy1), titleFontWeight="normal",
                                        labelColor=TXT, titleColor=TXT, padding=0)),
        color=alt.Color("neg:Q", scale=alt.Scale(domain=[-cdom[1], -cdom[0]], range=["#0000FF", "#FF0000"],
                                                 interpolate="lab"),
                        legend=alt.Legend(title="p.adjust", values=[-v for v in cvals], labelExpr=clabel,
                                          gradientLength=34, gradientThickness=7, titleFontSize=5.5,
                                          labelFontSize=4.5, labelOverlap=False, orient="none",
                                          legendX=PX(legx), legendY=PY(legy2), titleFontWeight="normal",
                                          labelColor=TXT, titleColor=TXT, titlePadding=2, padding=0)))
    frame = box(x0, y0, x1, y1, fill="transparent", stroke="#1a1a1a", strokeWidth=1.1)
    ttl = note(title, (x0 + x1) / 2, 545, fontSize=10, color=TXT)
    return [alt.layer(gx, gy, dots), frame, ttl]


# ---------------- assemble ----------------
children = [panel_a()]
children += volcano(v1_ns, v1_down, v1_up, v1_lab_gene, v1_lab_x, v1_lab_y, v1_lab_side, [-11, 10.8],
                    [-2, 68.8], [-10, -5, 0, 5, 10], [0, 10, 20, 30, 40, 50, 60], "Trp1 CD4⁺cd8⁺ vs Trp1 CD4⁺",
                    454, 651, (337, 9, 497, 145), 4)
children += volcano(v2_ns, v2_down, v2_up, v2_lab_gene, v2_lab_x, v2_lab_y, v2_lab_side, [-9.5, 9.5],
                    [-3.5, 116.7], [-5, 0, 5], [0, 20, 40, 60, 80, 100], "Pmel CD8⁺cd4⁺ vs Pmel CD8⁺", 1, 332,
                    (337, 188, 497, 325), 180)
children += heat_block(cyto_genes, cyto_z, cyto_merges, "Cytotoxic T cell associated genes", 21, 142, header=True)
children += heat_block(reg_genes, reg_z, reg_merges, "Regulatory T cell associated genes", 160, 281)
children += heat_block(lin_genes, lin_z, lin_merges, "Lineage Markers", 297, 366)
children += heat_block(act_genes, act_z, act_merges, ["Activation/Exhaustion", "Markers"], 389, 458)
children += colorbar()
children.append(radar(d1_red, d1_green, "Trp1 CD4⁺cd8⁺", "Trp1 CD4⁺", 109, 433, 186, 397, 8.5, 8))
children.append(radar(d2_red, d2_green, "Pmel CD8⁺cd4⁺", "Pmel CD8⁺", 337, 433, 418, 401, 7, 7))
children += dotplot(e_terms, e_ratio, e_count, e_padj, [0.0352, 0.1176], "Trp1 CD4⁺cd8⁺ vs Trp1 CD4⁺",
                    [25, 72], [5.7, 35], [30, 40, 50, 60, 70], [3e-14, 5.05e-13],
                    [1e-13, 2e-13, 3e-13, 4e-13, 5e-13], "format(-datum.value, '.0e')", (98, 553, 303, 752),
                    7.8, 8.4, 309, 601, 668)
children += dotplot(f_terms, f_ratio, f_count, f_padj, [0.028, 0.1088], "Pmel CD8⁺cd4⁺ vs Pmel CD8⁺",
                    [13, 45], [4.2, 31], [25, 30, 35, 40, 45], [1.95e-6, 6.0e-6], [3e-6, 4e-6, 5e-6],
                    "replace(format(-datum.value, '.0e'), 'e-6', 'e-06')", (506, 551, 708, 752), 7, 8.5,
                    713, 599, 668)
for ch, lx, ly in [("a", 3, 6), ("b", 322, 8), ("c", 503, 8), ("d", 3, 357), ("e", 3, 545), ("f", 372, 545)]:
    children.append(letter(ch, lx, ly))

chart = alt.layer(*children).resolve_scale(
    x="independent", y="independent", color="independent", size="independent"
).properties(
    width=W, height=H, autosize=alt.AutoSizeParams(type="none"), padding=0
).configure(font=FONT, background="white").configure_view(
    stroke="transparent", fill="white"
).configure_axis(labelFont=FONT, titleFont=FONT).configure_legend(
    labelFont=FONT, titleFont=FONT
).configure_text(font=FONT)

chart.save("out.html", embed_options={"renderer": "svg", "actions": False})
